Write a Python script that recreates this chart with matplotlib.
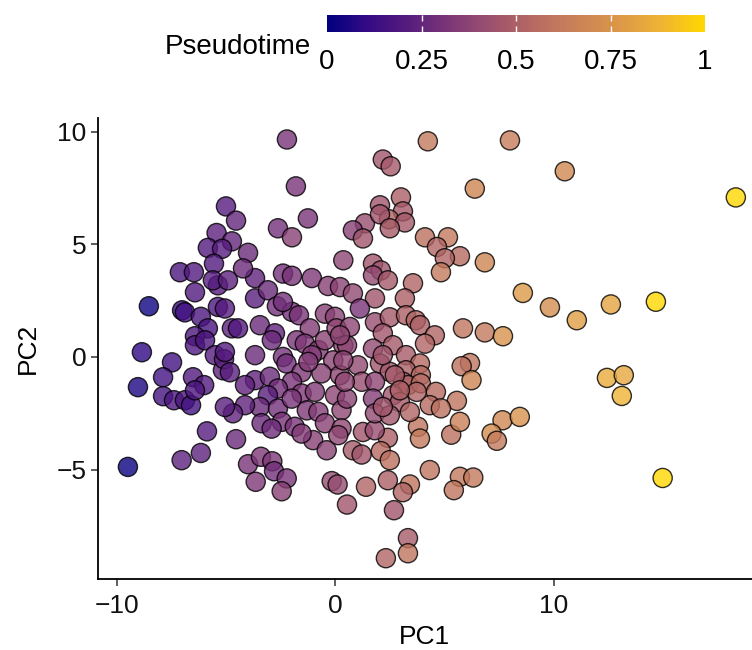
import numpy as np
import matplotlib.pyplot as plt
from matplotlib.colors import LinearSegmentedColormap, Normalize
from matplotlib.cm import ScalarMappable

plt.rcParams['font.family'] = ['Liberation Sans', 'DejaVu Sans']

# PCA coordinates and pseudotime per cell
pc1 = [
    -9.50, -9.04, -8.86, -8.54, -7.48, -7.89, -7.89, -7.39, -6.89, -6.61,
    -6.52, -6.01, -6.43, -7.02, -6.89, -6.16, -5.84, -6.43, -6.43, -5.97,
    -5.52, -5.15, -6.43, -5.38, -7.12, -6.48, -5.38, -4.74, -5.88, -4.55,
    -7.04, -6.16, -5.01, -5.44, -4.74, -4.55, -5.84, -5.19, -5.56, -5.61,
    -4.92, -5.10, -3.68, -2.40, -1.99, -1.08, -0.34, 0.21, -3.68, -3.09,
    -2.68, -1.99, -1.67, -0.48, -0.02, -3.46, -4.46, -2.77, -2.91, -1.17,
    -1.77, -1.40, -0.78, -0.48, 0.36, 0.05, -5.06, -3.68, -2.40, -1.08,
    -0.10, -4.83, -2.24, -1.55, -0.64, 0.21, -3.68, -3.00, -1.99, -2.63,
    -3.09, -1.55, -0.94, -0.02, -3.46, -2.63, -4.14, -4.69, -1.31, -0.78,
    0.28, -3.38, -2.45, -1.86, -0.48, 0.28, -4.00, -3.41, -2.89, -2.81,
    -3.65, -2.23, -2.46, -0.17, 0.10, 0.53, -1.02, -0.40, 0.13, -2.92,
    -1.55, 3.78, 3.87, 5.30, 2.40, 1.26, 0.80, 1.20, 2.08, 2.49,
    4.32, 2.40, 3.41, 3.09, 1.40, 2.68, 3.32, 3.32, 2.31, 1.80,
    6.16, 5.78, 6.23, 5.56, 5.70, 7.65, 8.44, 7.15, 7.39, 12.43,
    13.20, 13.11, 14.98, 5.70, 6.31, 5.42, 7.99, 10.50, 6.38, 18.33,
    5.70, 6.84, 8.58, 9.82, 11.05, 12.61, 14.67, 5.84, 6.84, 7.67,
    4.23, 2.17, 2.53, 3.00, 2.04, 3.09, 2.45, 3.18, 1.35, 0.80,
    1.26, 2.04, 2.49, 4.10, 5.15, 4.65, 5.01, 4.83, 0.36, 1.72,
    2.08, 1.72, 2.40, 3.55, -2.22, -1.81, -1.26, -2.63, -1.99, -4.00,
    -4.23, 0.80, 1.81, 3.18, 1.12, 1.81, 2.49, 3.23, 3.68, 3.87,
    0.66, 4.55, 4.10, 2.17, 0.53, 1.72, 2.63, 3.23, 3.87, 1.03,
    2.04, 2.49, 3.23, 3.91, 1.21, 1.81, 3.09, 3.32, 3.91, 4.60,
    0.53, 1.72, 2.63, 2.95, 4.32, 1.81, 2.49, 3.41, 4.83,
    0.21, 0.36, 2.17, 2.72, 3.72, 2.17, 2.95, -2.40, -4.14, -5.06,
    -2.00, -1.24, 0.43, -5.06,
]
pc2 = [
    -4.88, -1.34, 0.21, 2.25, -0.24, -0.90, -1.74, -1.92, -1.92, -2.14,
    -0.90, -1.25, -1.48, 2.07, 1.98, 1.78, 1.27, 0.92, 0.52, 0.74,
    0.08, -0.59, 2.87, 3.18, 3.76, 3.76, 2.22, 1.27, -3.30, -3.65,
    -4.58, -4.26, 6.68, 5.50, 5.13, 6.05, 4.84, 4.80, 4.14, 3.40,
    3.40, -0.10, 3.50, 3.70, 3.60, 3.50, 3.15, 3.10, 2.60, 2.96,
    2.25, 2.00, 1.85, 1.92, 1.78, 1.41, 1.27, 1.05, 0.74, 1.27,
    0.74, 0.59, 0.30, 0.74, 0.52, 1.27, 0.22, 0.08, 0.00, 0.08,
    -0.15, -0.68, -0.29, -0.68, -0.73, -0.81, -1.03, -0.88, -1.10, -1.40,
    -1.70, -1.62, -1.55, -1.70, -2.22, -2.29, -2.14, -2.50, -2.37, -2.44,
    -2.36, -2.94, -2.88, -3.10, -2.94, -3.17, -4.76, -4.43, -4.63, -5.07,
    -5.54, -5.39, -5.96, -5.51, -5.66, -6.55, -3.69, -4.14, -3.47, -3.18,
    -3.40, -3.10, -3.62, -3.45, -3.59, -3.33, -4.14, -4.33, -4.18, -4.58,
    -5.02, -5.47, -5.66, -6.00, -5.76, -6.80, -8.04, -8.71, -8.93, -3.25,
    -0.27, -0.41, -1.03, -1.95, -2.88, -2.81, -2.66, -3.40, -3.72, -0.93,
    -0.81, -1.73, -5.37, -5.32, -5.35, -5.91, 9.61, 8.24, 7.47, 7.08,
    4.47, 4.20, 2.84, 2.20, 1.63, 2.33, 2.45, 1.27, 1.09, 0.92,
    9.57, 8.76, 8.46, 7.08, 6.73, 6.46, 6.11, 5.97, 5.93, 5.62,
    5.26, 6.33, 5.71, 5.31, 5.31, 4.88, 4.38, 3.76, 4.29, 4.14,
    3.84, 3.62, 3.40, 3.27, 9.65, 7.57, 6.15, 5.71, 5.31, 4.62,
    3.93, 2.82, 2.60, 2.60, 2.15, 1.54, 1.76, 1.85, 1.63, 1.41,
    1.33, 0.96, 0.59, 1.05, 0.52, 0.37, 0.52, 0.08, -0.29, -0.37,
    -0.29, -0.66, -0.59, -0.81, -1.10, -1.10, -1.10, -1.25, -1.17, -1.55,
    -1.85, -1.85, -1.70, -2.00, -2.14, -2.50, -2.59, -2.44, -2.28,
    0.96, -0.15, 0.08, -0.81, -1.55, -2.22, -1.48, 2.44, -1.25, -2.22,
    -1.85, -0.22, -1.10, 2.15,
]
pseudotime = [
    0.02, 0.06, 0.09, 0.03, 0.15, 0.15, 0.16, 0.18, 0.18, 0.15,
    0.20, 0.20, 0.18, 0.13, 0.15, 0.18, 0.17, 0.18, 0.19, 0.18,
    0.21, 0.23, 0.20, 0.21, 0.18, 0.20, 0.19, 0.23, 0.21, 0.27,
    0.23, 0.23, 0.21, 0.23, 0.25, 0.25, 0.20, 0.21, 0.20, 0.21,
    0.23, 0.23, 0.24, 0.29, 0.31, 0.33, 0.36, 0.37, 0.22, 0.27,
    0.29, 0.29, 0.31, 0.36, 0.37, 0.27, 0.20, 0.24, 0.27, 0.34,
    0.31, 0.33, 0.35, 0.37, 0.39, 0.38, 0.20, 0.27, 0.29, 0.34,
    0.37, 0.22, 0.29, 0.33, 0.36, 0.38, 0.24, 0.27, 0.31, 0.29,
    0.22, 0.33, 0.34, 0.38, 0.27, 0.29, 0.24, 0.24, 0.33, 0.35,
    0.39, 0.27, 0.31, 0.31, 0.36, 0.39, 0.31, 0.33, 0.33, 0.29,
    0.33, 0.31, 0.36, 0.41, 0.41, 0.45, 0.36, 0.37, 0.39, 0.28,
    0.34, 0.60, 0.62, 0.58, 0.50, 0.45, 0.48, 0.45, 0.55, 0.58,
    0.60, 0.50, 0.60, 0.52, 0.52, 0.45, 0.48, 0.60, 0.52, 0.42,
    0.60, 0.58, 0.68, 0.60, 0.65, 0.70, 0.75, 0.72, 0.62, 0.85,
    0.83, 0.88, 1.00, 0.62, 0.62, 0.60, 0.63, 0.70, 0.68, 1.00,
    0.55, 0.68, 0.78, 0.72, 0.80, 0.82, 1.00, 0.60, 0.62, 0.75,
    0.62, 0.45, 0.47, 0.50, 0.45, 0.47, 0.52, 0.47, 0.42, 0.36,
    0.45, 0.45, 0.48, 0.58, 0.62, 0.52, 0.52, 0.62, 0.38, 0.45,
    0.45, 0.40, 0.47, 0.52, 0.31, 0.31, 0.31, 0.29, 0.36, 0.27,
    0.27, 0.40, 0.45, 0.50, 0.31, 0.42, 0.47, 0.50, 0.52, 0.50,
    0.38, 0.52, 0.52, 0.45, 0.38, 0.40, 0.47, 0.48, 0.55, 0.40,
    0.45, 0.47, 0.50, 0.55, 0.42, 0.38, 0.48, 0.52, 0.55, 0.55,
    0.37, 0.35, 0.45, 0.47, 0.55, 0.40, 0.45, 0.52, 0.58,
    0.38, 0.38, 0.45, 0.47, 0.52, 0.45, 0.50, 0.29, 0.24, 0.22,
    0.31, 0.34, 0.39, 0.21,
]

cmap = LinearSegmentedColormap.from_list("pt", [
    (0.00, "#000080"), (0.10, "#320a84"), (0.20, "#52197e"),
    (0.30, "#753179"), (0.40, "#934a72"), (0.50, "#ac6066"),
    (0.62, "#c47a5c"), (0.75, "#d8924c"), (0.88, "#eeb236"),
    (1.00, "#ffd700")])
norm = Normalize(0, 1)

fig = plt.figure(figsize=(7.52, 6.5), dpi=100)
ax = fig.add_axes([0.130, 0.109, 0.870, 0.709])
ax.scatter(pc1, pc2, c=pseudotime, cmap=cmap, norm=norm, s=190,
           alpha=0.8, edgecolors='black', linewidths=1.0, zorder=3)

ax.set_xlim(-10.88, 19.07)
ax.set_ylim(-9.86, 10.59)
ax.set_xticks([-10, 0, 10])
ax.set_yticks([-5, 0, 5, 10])
for side in ['top', 'right']:
    ax.spines[side].set_visible(False)
for side in ['left', 'bottom']:
    ax.spines[side].set_linewidth(1.3)
ax.tick_params(length=5, width=1.1, color='#333333', labelsize=19,
               labelcolor='#111111')
ax.tick_params(axis='x', pad=6)
ax.tick_params(axis='y', pad=3)
ax.set_xlabel("PC1", fontsize=19, labelpad=5)
ax.set_ylabel("PC2", fontsize=19, labelpad=12)

# horizontal colour bar on top
cax = fig.add_axes([327 / 752, 1 - 32 / 650, 378 / 752, 17 / 650])
cb = fig.colorbar(ScalarMappable(norm=norm, cmap=cmap), cax=cax,
                  orientation='horizontal')
cb.outline.set_visible(False)
cb.set_ticks([0.25, 0.5, 0.75])
cax.tick_params(axis='x', direction='in', length=4, width=1, color='white',
                top=True, labelbottom=False)
for v, lab in zip([0, 0.25, 0.5, 0.75, 1], ["0", "0.25", "0.5", "0.75", "1"]):
    cax.text(v, -1.0, lab, transform=cax.transAxes, fontsize=20,
             ha='center', va='top')
fig.text(311 / 752, 1 - 47 / 650, "Pseudotime", fontsize=20,
         ha='right', va='center')

fig.savefig("out.png", dpi=100)
